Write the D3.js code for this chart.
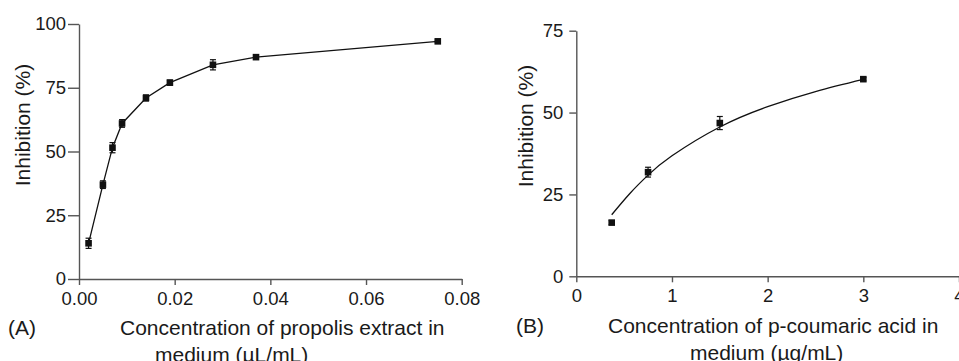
<!DOCTYPE html>
<html>
<head>
<meta charset="utf-8">
<script src="https://cdn.jsdelivr.net/npm/d3@7"></script>
<style>
  body { margin: 0; background: #fff; }
  svg { display: block; font-family: "Liberation Sans", Arial, Helvetica, sans-serif; }
  .axis path, .axis line { stroke: #555; stroke-width: 1.4; }
  .axisText { font-size: 21px; fill: #1a1a1a; }
</style>
</head>
<body>
<div class="chart"></div>
<script>
// Panel A: propolis extract
var propolisConc = [0.002, 0.005, 0.007, 0.009, 0.014, 0.019, 0.028, 0.037, 0.075];
var propolisInhib = [14, 37, 51.5, 61, 71, 77, 84, 87, 93.2];
var propolisErr = [2, 1.5, 2, 1.5, 1.2, 1, 2, 0.8, 0.5];
var propolisXTicks = [0, 0.02, 0.04, 0.06, 0.08];
var propolisYTicks = [0, 25, 50, 75, 100];

// Panel B: p-coumaric acid
var coumaricConc = [0.37, 0.75, 1.5, 3];
var coumaricInhib = [16.4, 31.8, 46.8, 60.2];
var coumaricErr = [0.6, 1.5, 2, 0.5];
// fitted curve
var fitConc = [0.37, 0.56, 0.75, 1, 1.5, 2, 2.5, 3];
var fitInhib = [18.8, 25.3, 30.9, 36.8, 45.6, 51.8, 56.4, 60.1];
var coumaricXTicks = [0, 1, 2, 3, 4];
var coumaricYTicks = [0, 25, 50, 75];

var svgWidth = 959;
var svgHeight = 361;

var svg = d3.select(".chart")
  .append("svg")
  .attr("width", svgWidth)
  .attr("height", svgHeight);

function drawPanel(opt) {
  var g = svg.append("g");

  var xScale = d3.scaleLinear().domain(opt.xDomain).range(opt.xRange);
  var yScale = d3.scaleLinear().domain(opt.yDomain).range(opt.yRange);

  var bottomAxis = d3.axisBottom(xScale)
    .tickValues(opt.xTicks)
    .tickFormat(opt.xFormat)
    .tickSizeInner(6)
    .tickSizeOuter(0)
    .tickPadding(7);
  var leftAxis = d3.axisLeft(yScale)
    .tickValues(opt.yTicks)
    .tickSizeInner(opt.yTickSize)
    .tickSizeOuter(0)
    .tickPadding(opt.yTickPad);

  g.append("g")
    .attr("class", "axis")
    .attr("transform", `translate(0, ${opt.yRange[0]})`)
    .call(bottomAxis)
    .selectAll("text")
    .style("font-size", "18.5px")
    .style("font-family", "'Liberation Sans', Arial, sans-serif")
    .attr("fill", "#1a1a1a");

  g.append("g")
    .attr("class", "axis")
    .attr("transform", `translate(${opt.xRange[0]}, 0)`)
    .call(leftAxis)
    .selectAll("text")
    .style("font-size", "18.5px")
    .style("font-family", "'Liberation Sans', Arial, sans-serif")
    .attr("fill", "#1a1a1a");

  // line
  var line = d3.line()
    .x(d => xScale(d[0]))
    .y(d => yScale(d[1]))
    .curve(opt.curve);

  g.append("path")
    .datum(d3.zip(opt.lineX, opt.lineY))
    .attr("fill", "none")
    .attr("stroke", "#111")
    .attr("stroke-width", 1.3)
    .attr("d", line);

  var pts = opt.x.map((x, i) => ({ x: x, y: opt.y[i], e: opt.err[i] }));

  // error bars
  var eb = g.selectAll(".err")
    .data(pts)
    .enter()
    .append("g");
  eb.append("line")
    .attr("x1", d => xScale(d.x)).attr("x2", d => xScale(d.x))
    .attr("y1", d => yScale(d.y - d.e)).attr("y2", d => yScale(d.y + d.e))
    .attr("stroke", "#111").attr("stroke-width", 1.2);
  [-1, 1].forEach(function(s) {
    eb.append("line")
      .attr("x1", d => xScale(d.x) - 3).attr("x2", d => xScale(d.x) + 3)
      .attr("y1", d => yScale(d.y + s * d.e)).attr("y2", d => yScale(d.y + s * d.e))
      .attr("stroke", "#111").attr("stroke-width", 1.2);
  });

  // markers
  g.selectAll("rect.pt")
    .data(pts)
    .enter()
    .append("rect")
    .attr("x", d => xScale(d.x) - 3.3)
    .attr("y", d => yScale(d.y) - 3.3)
    .attr("width", 6.6)
    .attr("height", 6.6)
    .attr("fill", "#111");

  // axis titles
  g.append("text")
    .attr("transform", "rotate(-90)")
    .attr("x", -opt.yLabelCenter)
    .attr("y", opt.yLabelX)
    .attr("text-anchor", "middle")
    .attr("class", "axisText")
    .text("Inhibition (%)");

  g.append("text")
    .attr("x", opt.title1X)
    .attr("y", opt.titleY)
    .attr("class", "axisText")
    .text(opt.title1);

  g.append("text")
    .attr("x", opt.title2X)
    .attr("y", opt.titleY + 27)
    .attr("class", "axisText")
    .text(opt.title2);

  g.append("text")
    .attr("x", opt.tagX)
    .attr("y", opt.titleY)
    .attr("class", "axisText")
    .text(opt.tag);
}

drawPanel({
  xDomain: [0, 0.08], xRange: [79, 461.7],
  yDomain: [0, 100], yRange: [279, 24],
  xTicks: propolisXTicks, yTicks: propolisYTicks,
  xFormat: d3.format(".2f"),
  yTickSize: 11, yTickPad: 2,
  x: propolisConc, y: propolisInhib, err: propolisErr,
  lineX: propolisConc, lineY: propolisInhib,
  curve: d3.curveLinear,
  yLabelCenter: 125, yLabelX: 30,
  title1: "Concentration of propolis extract in", title1X: 120,
  title2: "medium (\u00b5L/mL)", title2X: 155,
  titleY: 335, tag: "(A)", tagX: 8
});

drawPanel({
  xDomain: [0, 4], xRange: [576.3, 959],
  yDomain: [0, 75], yRange: [276.3, 30.7],
  xTicks: coumaricXTicks, yTicks: coumaricYTicks,
  xFormat: d3.format("d"),
  yTickSize: 7, yTickPad: 6,
  x: coumaricConc, y: coumaricInhib, err: coumaricErr,
  lineX: fitConc, lineY: fitInhib,
  curve: d3.curveNatural,
  yLabelCenter: 126, yLabelX: 533,
  title1: "Concentration of p-coumaric acid in", title1X: 608,
  title2: "medium (\u00b5g/mL)", title2X: 690,
  titleY: 333, tag: "(B)", tagX: 516
});
</script>
</body>
</html>
